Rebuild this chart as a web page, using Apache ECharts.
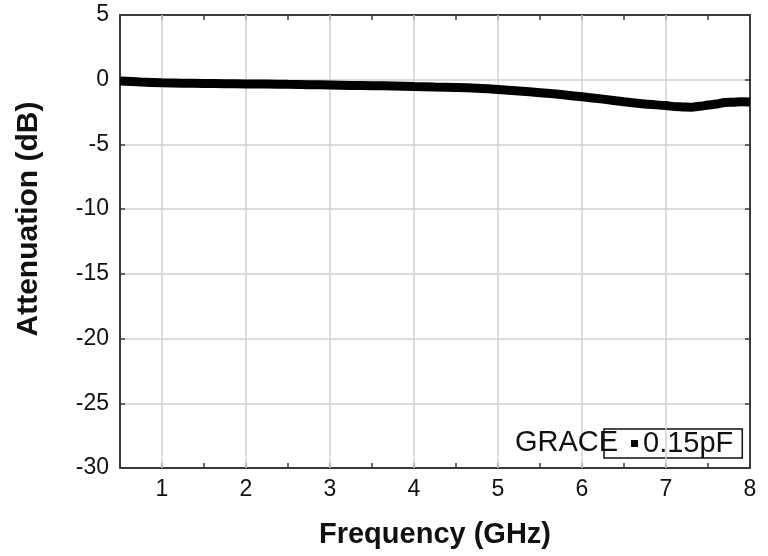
<!DOCTYPE html>
<html><head><meta charset="utf-8">
<script src="https://cdn.jsdelivr.net/npm/echarts@6/dist/echarts.min.js"></script>
<style>html,body{margin:0;padding:0;background:#fff}#c{width:768px;height:556px}</style>
</head><body><div id="c"></div>
<script>
// ---- data ----
const freqGHz = [0.5, 0.75, 1.0, 1.25, 1.5, 1.75, 2.0, 2.25, 2.5, 2.75, 3.0, 3.25, 3.5, 3.75, 4.0, 4.25, 4.5, 4.75, 5.0, 5.25, 5.5, 5.75, 6.0, 6.25, 6.5, 6.75, 7.0, 7.1, 7.2, 7.3, 7.4, 7.5, 7.6, 7.7, 7.8, 7.9, 8.0];
const attenuationDb = [-0.10, -0.18, -0.24, -0.27, -0.29, -0.31, -0.33, -0.34, -0.36, -0.38, -0.41, -0.44, -0.46, -0.48, -0.52, -0.56, -0.60, -0.66, -0.75, -0.87, -1.00, -1.15, -1.32, -1.50, -1.70, -1.88, -2.00, -2.08, -2.10, -2.12, -2.05, -1.96, -1.88, -1.76, -1.74, -1.70, -1.72];
const xGridLines = [1, 2, 3, 4, 5, 6, 7];
const xTickLabels = ['1', '2', '3', '4', '5', '6', '7', '8'];
const seriesName = '0.15pF';
const legendPrefix = 'GRACE';
const xTitle = 'Frequency (GHz)';
const yTitle = 'Attenuation (dB)';

const FONT = 'Liberation Sans, Arial, sans-serif';
const points = freqGHz.map((f, i) => [f, attenuationDb[i]]);

const chart = echarts.init(document.getElementById('c'), null, {renderer: 'canvas'});
const axisLine = {show: true, onZero: false, lineStyle: {color: '#3a3a3a', width: 2}};
const tickIn = {show: true, inside: true, length: 5, lineStyle: {color: '#3a3a3a', width: 1.5}};

chart.setOption({
  animation: false,
  backgroundColor: '#fff',
  grid: {left: 120, right: 18, top: 15, bottom: 88, containLabel: false},
  xAxis: [{
    type: 'value', min: 0.5, max: 8, interval: 0.5,
    position: 'bottom',
    name: xTitle, nameLocation: 'middle', nameGap: 52,
    nameTextStyle: {fontFamily: FONT, fontWeight: 'bold', fontSize: 29, color: '#111'},
    axisLine: axisLine, axisTick: tickIn,
    axisLabel: {
      margin: 10, fontFamily: FONT, fontSize: 23, color: '#111',
      formatter: v => (Math.abs(v - Math.round(v)) < 1e-6 && xTickLabels.indexOf(String(Math.round(v))) >= 0) ? String(Math.round(v)) : ''
    },
    splitLine: {show: false}
  }, {
    type: 'value', min: 0.5, max: 8, interval: 0.5, position: 'top',
    axisLine: axisLine, axisTick: tickIn, axisLabel: {show: false}, splitLine: {show: false}
  }],
  yAxis: [{
    type: 'value', min: -30, max: 5, interval: 5, position: 'left',
    name: yTitle, nameLocation: 'middle', nameGap: 76,
    nameTextStyle: {fontFamily: FONT, fontWeight: 'bold', fontSize: 30, color: '#111', padding: [0, 0, 0, 45]},
    axisLine: axisLine, axisTick: tickIn,
    axisLabel: {margin: 11, fontFamily: FONT, fontSize: 23, color: '#111'},
    splitLine: {show: true, lineStyle: {color: '#d2d2d2', width: 1.5}}
  }, {
    type: 'value', min: -30, max: 5, interval: 5, position: 'right',
    axisLine: axisLine, axisTick: tickIn, axisLabel: {show: false}, splitLine: {show: false}
  }],
  legend: {
    show: true, left: 604, top: 429,
    data: [{name: seriesName, icon: 'rect'}],
    itemWidth: 7, itemHeight: 7,
    padding: [0, 9, 0, 27],
    borderColor: '#111', borderWidth: 1.5, backgroundColor: 'rgba(255,255,255,0)',
    textStyle: {fontFamily: FONT, fontSize: 29, color: '#111'}
  },
  graphic: [{
    type: 'text', x: 515, y: 443, z: 100,
    style: {text: legendPrefix, font: '29px ' + FONT, fill: '#111', verticalAlign: 'middle', align: 'left'}
  }],
  series: [{
    name: 'grid', type: 'line', data: [], z: 1, silent: true,
    markLine: {
      silent: true, symbol: 'none', label: {show: false}, animation: false,
      lineStyle: {color: '#d2d2d2', width: 1.5, type: 'solid'},
      data: xGridLines.map(v => ({xAxis: v}))
    }
  }, {
    name: seriesName, type: 'line', data: points, z: 5,
    showSymbol: false, symbol: 'rect', symbolSize: 7, smooth: 0.3,
    itemStyle: {color: '#000'},
    lineStyle: {color: '#000', width: 9}
  }]
});
</script></body></html>
